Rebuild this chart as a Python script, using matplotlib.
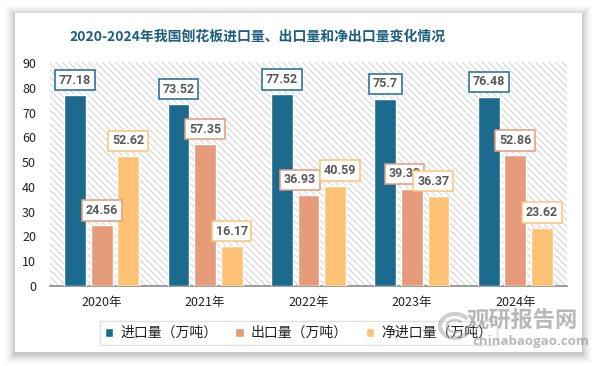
import matplotlib
matplotlib.use("Agg")
import matplotlib.pyplot as plt
from matplotlib.patches import Rectangle, Arc
import numpy as np

plt.rcParams['font.family'] = ['Noto Sans CJK SC', 'DejaVu Sans']
plt.rcParams['hatch.color'] = '#d6d6d6'
plt.rcParams['hatch.linewidth'] = 0.8

title = "2020-2024年我国刨花板进口量、出口量和净出口量变化情况"
years = ["2020年", "2021年", "2022年", "2023年", "2024年"]
series_names = ["进口量（万吨）", "出口量（万吨）", "净进口量（万吨）"]
imports = [77.18, 73.52, 77.52, 75.7, 76.48]
exports = [24.56, 57.35, 36.93, 39.33, 52.86]
net = [52.62, 16.17, 40.59, 36.37, 23.62]
yticks = [0, 10, 20, 30, 40, 50, 60, 70, 80, 90]

colors = ["#1c6b8e", "#e69b7b", "#fec274"]

# label nudges in pixels (layout only)
nudges = {(1, 2): -8, (2, 2): 4.5, (1, 3): -7, (2, 3): -5}

W, H = 594, 366
fig = plt.figure(figsize=(W / 100, H / 100), dpi=100)
fig.patch.set_facecolor('white')

# card shadow + card
bg = fig.add_axes([0, 0, 1, 1], zorder=-10)
bg.set_xlim(0, W)
bg.set_ylim(H, 0)
bg.axis('off')
for i, a in enumerate(np.linspace(0.035, 0.008, 10)):
    d = i + 1
    bg.add_patch(Rectangle((15 - d, 13 - d + 2), 567 + 2 * d, 339 + 2 * d,
                           facecolor='black', alpha=a, edgecolor='none'))
bg.add_patch(Rectangle((15, 13), 567, 339, facecolor='white', edgecolor='none'))

# title
fig.text(258 / W, 1 - 37 / H, title, ha='center', va='center',
         fontsize=10, fontweight='bold', color='#1d5f80')

# axes
ax = fig.add_axes([50 / W, 1 - 286 / H, 517 / W, (286 - 62) / H])
ax.set_facecolor('white')
ax.patch.set_hatch('\\\\\\\\\\')
ax.patch.set_edgecolor('#d6d6d6')
ax.patch.set_linewidth(0)
ax.set_xlim(-0.5, len(years) - 0.5)
ax.set_ylim(0, 90.5)
for s in ['top', 'right', 'left']:
    ax.spines[s].set_visible(False)
ax.spines['bottom'].set_color('#8c8c8c')
ax.spines['bottom'].set_linewidth(1.2)
ax.set_yticks(yticks)
ax.set_yticklabels([str(v) for v in yticks], fontsize=9, color='#222222')
ax.tick_params(axis='y', length=0, pad=10)
x = np.arange(len(years))
ax.set_xticks(x)
ax.set_xticklabels(years, fontsize=9, color='#222222')
ax.tick_params(axis='x', length=0, pad=7)

bw = 0.21
off = 0.257
data = [imports, exports, net]
for k, (vals, c, name) in enumerate(zip(data, colors, series_names)):
    xs = x + (k - 1) * off
    ax.bar(xs, vals, width=bw, color=c, edgecolor='white', linewidth=1.0,
           label=name, zorder=3)

for k, (vals, c) in enumerate(zip(data, colors)):
    xs = x + (k - 1) * off
    for i, v in enumerate(vals):
        txt = f"{v:g}"
        dx = nudges.get((k, i), 0) * 0.75
        ax.annotate(txt, (xs[i], v), xytext=(dx, 6.0), textcoords='offset points',
                    ha='center', va='bottom', fontsize=9, fontweight='bold',
                    family=['Roboto', 'DejaVu Sans'], color='#595959',
                    zorder=5 + k,
                    bbox=dict(boxstyle='square,pad=0.3', facecolor='white',
                              edgecolor=c, linewidth=1.1))

# legend
leg = fig.legend(handles=ax.containers, labels=series_names, loc='center',
                 bbox_to_anchor=(298.5 / W, 1 - 333 / H), ncol=3, frameon=True,
                 fancybox=False, fontsize=10, handlelength=0.6, handleheight=0.6,
                 handletextpad=0.5, columnspacing=1.3, borderpad=0.35)
leg.get_frame().set_edgecolor('#d9d9d9')
leg.get_frame().set_linewidth(1.0)
for t in leg.get_texts():
    t.set_color('#222222')

# watermark
wm = fig.add_axes([0, 0, 1, 1], zorder=20)
wm.set_xlim(0, W)
wm.set_ylim(H, 0)
wm.axis('off')
wm.add_patch(Arc((455, 326), 30, 24, theta1=20, theta2=330, color='#a0a0a0',
                 linewidth=3, alpha=0.5))
wm.add_patch(Arc((455, 326), 16, 12, theta1=20, theta2=330, color='#a0a0a0',
                 linewidth=2, alpha=0.5))
wm.text(522, 321, "观研报告网", ha='center', va='center', fontsize=16,
        fontweight='bold', color='#8a8a8a', alpha=0.6)
wm.text(531, 342, "chinabaogao.com", ha='center', va='center', fontsize=9.5,
        fontweight='bold', color='#8a8a8a', alpha=0.6,
        family=['Open Sans', 'DejaVu Sans'])

fig.savefig("out.png", dpi=100)
